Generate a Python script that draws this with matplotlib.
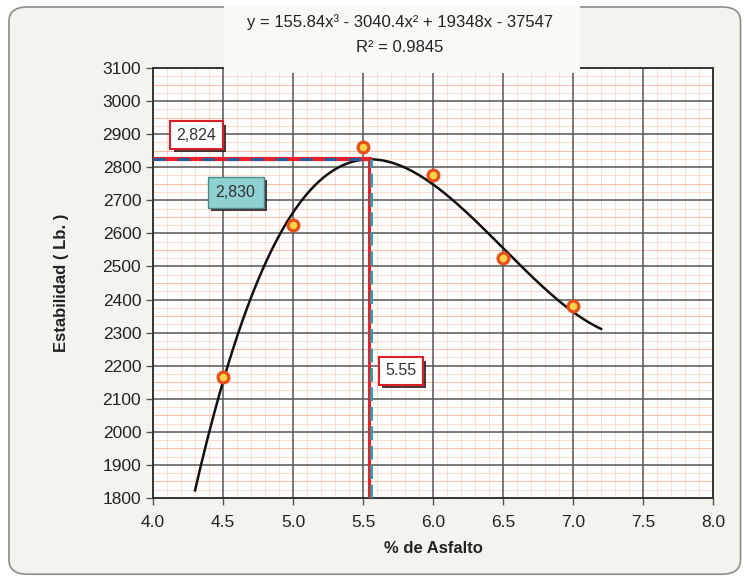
import numpy as np
import matplotlib
matplotlib.use('Agg')
import matplotlib.pyplot as plt
from matplotlib.patches import FancyBboxPatch
from matplotlib.ticker import MultipleLocator, FormatStrFormatter
import matplotlib.patheffects as pe

plt.rcParams['font.family'] = ['Liberation Sans Narrow', 'Liberation Sans', 'DejaVu Sans']

# data
asfalto = [4.5, 5.0, 5.5, 6.0, 6.5, 7.0]
estabilidad = [2165, 2625, 2860, 2775, 2525, 2380]

# trendline coefficients (shown on chart)
coefs = [155.84, -3040.4, 19348, -37547]
fit_range = [4.3, 7.2]

opt_x = 5.55
opt_y = 2824
label_y = '2,824'
label_max = '2,830'
label_x = '5.55'
eq_text = 'y = 155.84x\u00b3 - 3040.4x\u00b2 + 19348x - 37547'
r2_text = 'R\u00b2 = 0.9845'

fig = plt.figure(figsize=(7.45, 5.8), dpi=100)
fig.patch.set_facecolor('white')

# rounded chart-area background
bg = FancyBboxPatch((0.012, 0.01), 0.982, 0.978,
                    boxstyle='round,pad=0,rounding_size=0.025',
                    transform=fig.transFigure, facecolor='#f4f4ef',
                    edgecolor='#8c8c8c', linewidth=1.2, zorder=-5)
fig.patches.append(bg)

ax = fig.add_axes([0.2054, 0.1414, 0.7517, 0.7414])
ax.set_zorder(1)
ax.set_facecolor('white')

ax.set_xlim(4.0, 8.0)
ax.set_ylim(1800, 3100)
ax.xaxis.set_major_locator(MultipleLocator(0.5))
ax.xaxis.set_minor_locator(MultipleLocator(0.1))
ax.yaxis.set_major_locator(MultipleLocator(100))
ax.yaxis.set_minor_locator(MultipleLocator(25))
ax.xaxis.set_major_formatter(FormatStrFormatter('%.1f'))

# faint minor grid
ax.grid(which='minor', color='#f9dccd', linewidth=0.7)
ax.set_axisbelow(True)
# half-step lines a bit stronger
for yv in np.arange(1850, 3100, 100):
    ax.axhline(yv, color='#f2c0a6', linewidth=0.8, zorder=0.8)
# major grid drawn on top of minor grid
for xv in np.arange(4.5, 8.0, 0.5):
    ax.axvline(xv, color='#555555', linewidth=1.1, zorder=1)
for yv in np.arange(1900, 3100, 100):
    ax.axhline(yv, color='#555555', linewidth=1.1, zorder=1)

ax.tick_params(which='minor', length=0)
ax.tick_params(which='major', length=5, width=1, color='#555555',
               labelsize=12.5, labelcolor='#222222')
ax.tick_params(axis='x', pad=7)
for s in ax.spines.values():
    s.set_color('#333333')
    s.set_linewidth(1.4)

# trendline
xs = np.linspace(fit_range[0], fit_range[1], 200)
ax.plot(xs, np.polyval(coefs, xs), color='#111111', linewidth=1.8, zorder=3)

# reference lines
ax.plot([4.0, opt_x], [opt_y, opt_y], color='#e8202a', linewidth=3, zorder=4)
ax.plot([4.0, opt_x], [opt_y + 2, opt_y + 2], color='#2b5a9a', linewidth=2.2,
        linestyle=(0, (4, 4)), zorder=5)
ax.plot([opt_x - 0.005, opt_x - 0.005], [1800, opt_y], color='#e8202a',
        linewidth=2.2, zorder=4)
ax.plot([opt_x + 0.01, opt_x + 0.01], [1800, opt_y], color='#2a9aa8',
        linewidth=2, linestyle=(0, (5, 2)), zorder=5)

# data points
ax.scatter(asfalto, estabilidad, s=60, facecolor='#ffd24a',
           edgecolor='#e8501a', linewidth=2.3, zorder=6)

shadow = [pe.SimplePatchShadow(offset=(2.5, -2.5), shadow_rgbFace='#3a2020', alpha=0.9),
          pe.Normal()]
t1 = ax.text(4.31, 2897, label_y, ha='center', va='center', fontsize=11.5,
             color='#333333', zorder=8,
             bbox=dict(boxstyle='square,pad=0.4', facecolor='white',
                       edgecolor='#d8202a', linewidth=1.5))
t1.get_bbox_patch().set_path_effects(shadow)
t2 = ax.text(4.59, 2725, label_max, ha='center', va='center', fontsize=11.5,
             color='#333333', zorder=8,
             bbox=dict(boxstyle='square,pad=0.5', facecolor='#8fd0d0',
                       edgecolor='#4a8a8a', linewidth=1))
t2.get_bbox_patch().set_path_effects(shadow)
t3 = ax.text(5.77, 2184, label_x, ha='center', va='center', fontsize=11.5,
             color='#333333', zorder=8,
             bbox=dict(boxstyle='square,pad=0.4', facecolor='white',
                       edgecolor='#d8202a', linewidth=1.5))
t3.get_bbox_patch().set_path_effects(shadow)

ax.set_xlabel('% de Asfalto', fontsize=12, fontweight='bold', color='#222222',
              labelpad=8)
ax.set_ylabel('Estabilidad ( Lb. )', fontsize=12, fontweight='bold',
              color='#222222', labelpad=24)

# equation label over the top of the plot
eq_box = FancyBboxPatch((0.30, 0.875), 0.478, 0.115, boxstyle='square,pad=0',
                        transform=fig.transFigure, facecolor='#fbf9f6',
                        edgecolor='none', zorder=10)
fig.patches.append(eq_box)
fig.text(0.537, 0.962, eq_text, ha='center', va='center', fontsize=12,
         color='#222222', zorder=11)
fig.text(0.537, 0.918, r2_text, ha='center', va='center', fontsize=12,
         color='#222222', zorder=11)

fig.savefig('out.png', dpi=100)
